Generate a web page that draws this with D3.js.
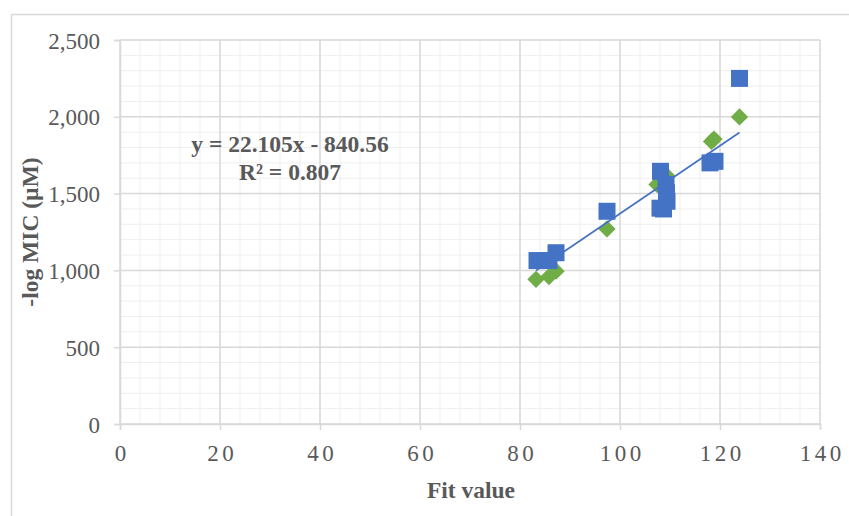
<!DOCTYPE html>
<html>
<head>
<meta charset="utf-8">
<script src="https://cdn.jsdelivr.net/npm/d3@7"></script>
<style>
  body { margin: 0; background: #fff; }
  svg text { font-family: "Liberation Serif", "Times New Roman", serif; }
</style>
</head>
<body>
<div id="chart"></div>
<script>
// Blue series (squares)
const blueX = [123.9, 118.0, 119.0, 108.1, 109.2, 109.3, 109.4, 108.0, 108.7, 97.4, 87.2, 83.4, 85.8];
const blueY = [2250, 1700, 1710, 1645, 1560, 1505, 1450, 1405, 1400, 1385, 1115, 1064, 1064];
// Green series (diamonds)
const greenX = [123.9, 118.3, 118.8, 107.4, 109.4, 97.4, 87.2, 85.8, 83.2];
const greenY = [1999, 1840, 1855, 1560, 1615, 1270, 995, 960, 942];
// Linear trendline
const slope = 22.105, intercept = -840.56;
const fitRange = [83.2, 123.9];
const xTicks = [0, 20, 40, 60, 80, 100, 120, 140];
const yTicks = [0, 500, 1000, 1500, 2000, 2500];

const W = 849, H = 516;
const margin = { top: 40, right: 29, bottom: 92, left: 120 };
const width = W - margin.left - margin.right;
const height = H - margin.top - margin.bottom;

const svg = d3.select("#chart").append("svg")
  .attr("width", W)
  .attr("height", H);

// chart outer border
svg.append("rect")
  .attr("x", 11.5).attr("y", 14.5)
  .attr("width", W).attr("height", H)
  .attr("fill", "none")
  .attr("stroke", "#d9d9d9")
  .attr("stroke-width", 1.5);

const g = svg.append("g")
  .attr("transform", "translate(" + margin.left + "," + margin.top + ")");

const x = d3.scaleLinear().domain([0, 140]).range([0, width]);
const y = d3.scaleLinear().domain([0, 2500]).range([height, 0]);

// minor grid
g.append("g").selectAll("line")
  .data(d3.range(0, 141, 4))
  .join("line")
  .attr("x1", d => x(d)).attr("x2", d => x(d))
  .attr("y1", 0).attr("y2", height)
  .attr("stroke", "#efefef").attr("stroke-width", 1);
g.append("g").selectAll("line")
  .data(d3.range(0, 2501, 100))
  .join("line")
  .attr("x1", 0).attr("x2", width)
  .attr("y1", d => y(d)).attr("y2", d => y(d))
  .attr("stroke", "#efefef").attr("stroke-width", 1);

// major grid
g.append("g").selectAll("line")
  .data(xTicks)
  .join("line")
  .attr("x1", d => x(d)).attr("x2", d => x(d))
  .attr("y1", 0).attr("y2", height)
  .attr("stroke", "#d9d9d9").attr("stroke-width", 1.5);
g.append("g").selectAll("line")
  .data(yTicks)
  .join("line")
  .attr("x1", 0).attr("x2", width)
  .attr("y1", d => y(d)).attr("y2", d => y(d))
  .attr("stroke", "#d9d9d9").attr("stroke-width", 1.5);

// axes
const fmt = d3.format(",");
const xAxis = g.append("g")
  .attr("transform", "translate(0," + height + ")")
  .call(d3.axisBottom(x).tickValues(xTicks).tickSize(6));
const yAxis = g.append("g")
  .call(d3.axisLeft(y).tickValues(yTicks).tickFormat(fmt).tickSize(6).tickPadding(14));

[xAxis, yAxis].forEach(a => {
  a.select(".domain").attr("stroke", "#d9d9d9").attr("stroke-width", 1.5);
  a.selectAll(".tick line").attr("stroke", "#d9d9d9").attr("stroke-width", 1.5);
  a.selectAll("text")
    .attr("fill", "#595959")
    .style("font-family", "'Liberation Serif', serif")
    .style("font-size", "23px");
});
xAxis.selectAll("text")
  .style("letter-spacing", "3.5px")
  .attr("y", 37)
  .attr("dy", 0)
  .attr("dx", 1.75);
yAxis.selectAll("text").attr("dy", "0.35em");

// green diamonds
const green = greenX.map((v, i) => ({ x: v, y: greenY[i] }));
g.append("g").selectAll("path")
  .data(green)
  .join("path")
  .attr("d", d3.symbol().type(d3.symbolSquare).size(150))
  .attr("transform", d => "translate(" + x(d.x) + "," + y(d.y) + ") rotate(45)")
  .attr("fill", "#70ad47");

// trendline
g.append("line")
  .attr("x1", x(fitRange[0])).attr("y1", y(slope * fitRange[0] + intercept))
  .attr("x2", x(fitRange[1])).attr("y2", y(slope * fitRange[1] + intercept))
  .attr("stroke", "#4472c4")
  .attr("stroke-width", 1.75);

// blue squares
const blue = blueX.map((v, i) => ({ x: v, y: blueY[i] }));
g.append("g").selectAll("rect")
  .data(blue)
  .join("rect")
  .attr("x", d => x(d.x) - 8.5)
  .attr("y", d => y(d.y) - 8.5)
  .attr("width", 17).attr("height", 17)
  .attr("fill", "#4472c4");

// equation label
const eq = svg.append("text")
  .attr("x", 290)
  .attr("y", 152)
  .attr("text-anchor", "middle")
  .attr("fill", "#595959")
  .style("font-size", "23.5px")
  .style("font-weight", "bold");
eq.append("tspan").text("y = 22.105x - 840.56");
eq.append("tspan").attr("x", 290).attr("dy", 28).text("R² = 0.807");

// axis titles
svg.append("text")
  .attr("x", 471)
  .attr("y", 498)
  .attr("text-anchor", "middle")
  .attr("fill", "#595959")
  .style("font-size", "23.5px")
  .style("font-weight", "bold")
  .text("Fit value");

svg.append("text")
  .attr("transform", "translate(38,232) rotate(-90)")
  .attr("text-anchor", "middle")
  .attr("fill", "#595959")
  .style("font-size", "23.5px")
  .style("font-weight", "bold")
  .text("-log MIC (µM)");
</script>
</body>
</html>
